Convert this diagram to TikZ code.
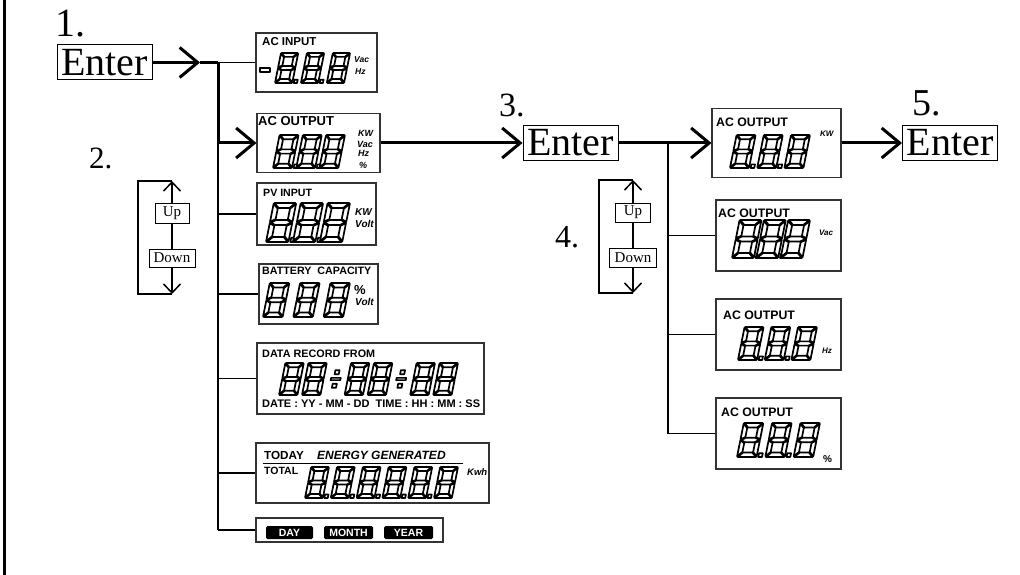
\documentclass[tikz,border=0pt]{standalone}
\usepackage{fontspec}
\setmainfont{Liberation Serif}
\newfontfamily\arialf{Liberation Sans}
\usetikzlibrary{arrows.meta,calc}
\newcommand\fs[1]{\fontsize{#1}{#1}\selectfont}
\newcommand\segdig[3]{%
  \begin{scope}[shift={({#1},{#2})},x=1pt,y=1pt,scale=#3/2,xslant=0.2]
    \filldraw[seg] (0.04,2)--(1.11,2)--(0.85,1.74)--(0.30,1.74)--cycle
      (0.04,0)--(1.11,0)--(0.85,0.26)--(0.30,0.26)--cycle
      (0.04,1)--(0.30,1.13)--(0.85,1.13)--(1.11,1)--(0.85,0.87)--(0.30,0.87)--cycle
      (0,1.96)--(0.26,1.70)--(0.26,1.17)--(0,1.04)--cycle
      (1.15,1.96)--(0.89,1.70)--(0.89,1.17)--(1.15,1.04)--cycle
      (0,0.04)--(0.26,0.30)--(0.26,0.83)--(0,0.96)--cycle
      (1.15,0.04)--(0.89,0.30)--(0.89,0.83)--(1.15,0.96)--cycle;
  \end{scope}}
\newcommand\segdot[3]{%
  \begin{scope}[shift={({#1},{#2})},x=1pt,y=1pt,scale=#3/2,xslant=0.2]
    \filldraw[seg] (1.25,0) rectangle (1.47,0.22);
  \end{scope}}
\newcommand\segcolon[3]{%
  \begin{scope}[shift={({#1},{#2})},x=1pt,y=1pt,scale=#3/2,xslant=0.2]
    \filldraw[seg] (0.12,0.45) rectangle (0.38,0.7)
      (0.12,1.3) rectangle (0.38,1.55)
      (-0.05,0.93) rectangle (0.55,1.07);
  \end{scope}}
\newcommand\segrow[6]{%
  \foreach \i in {1,...,#5}{%
    \segdig{#1+(\i-1)*#4}{#2}{#3}%
    \ifnum\i>#6\relax\else\segdot{#1+(\i-1)*#4}{#2}{#3}\fi}}
\begin{document}
\begin{tikzpicture}[x=1pt,y=-1pt,
  seg/.style={draw=black,fill=white,line width=1.7pt,line join=round},
  thk/.style={line width=3pt},
  thn/.style={line width=1.2pt},
  bigarrow/.style={thk,-{Straight Barb[length=18pt,width=30pt]}},
  udarrow/.style={line width=1.5pt,-{Straight Barb[length=9pt,width=17pt]}},
  udline/.style={line width=1.5pt},
  bracket/.style={line width=2pt},
  enter/.style={draw,line width=1pt,inner sep=0,minimum width=95pt,minimum height=35pt,font=\fs{40}},
  ud/.style={draw,line width=0.9pt,inner sep=0,fill=white,font=\fs{15}},
  num/.style={inner sep=0,anchor=base west},
  disp/.style={draw=black!80,line width=1.1pt,inner sep=0},
  lab/.style={inner sep=0,anchor=base west,font=\arialf\bfseries\fs{11}},
  unit/.style={inner sep=0,anchor=base west,font=\arialf\bfseries\itshape\fs{8}},
  tag/.style={fill=black,text=white,rounded corners=1.5pt,minimum height=13pt,inner sep=0,font=\arialf\bfseries\fs{10.5}}]
\useasboundingbox (0,0) rectangle (1020,575);
\draw[line width=2.5pt] (4.5,0) -- (4.5,575);

% step numbers
\node[num,font=\fs{40}] (n1) at (55,37) {1.};
\node[num,font=\fs{31}] (n2) at (89,168) {2.};
\node[num,font=\fs{34}] (n3) at (499,117) {3.};
\node[num,font=\fs{32}] (n4) at (555,247) {4.};
\node[num,font=\fs{38}] (n5) at (912,116) {5.};

% Enter keys
\node[enter] (e1) at (104.5,62.5) {Enter};
\node[enter] (e3) at (570.5,143) {Enter};
\node[enter] (e5) at (950,143) {Enter};

% displays
\node[disp,minimum width=121pt,minimum height=59pt] (acin) at (316.5,62.5) {};
\node[disp,minimum width=123pt,minimum height=59pt] (acout) at (318.5,143) {};
\node[disp,minimum width=119pt,minimum height=62pt] (pv) at (316.5,214) {};
\node[disp,minimum width=119pt,minimum height=60pt] (batt) at (318.5,294) {};
\node[disp,minimum width=227pt,minimum height=71pt] (data) at (370.5,378.5) {};
\node[disp,minimum width=233pt,minimum height=60pt] (energy) at (372.5,473) {};
\node[disp,minimum width=187pt,minimum height=24pt] (dmy) at (349.5,530) {};
\node[disp,minimum width=129pt,minimum height=69pt] (r1) at (776.5,143) {};
\node[disp,minimum width=125pt,minimum height=71pt] (r2) at (778.5,235.5) {};
\node[disp,minimum width=125pt,minimum height=71pt] (r3) at (778.5,334.5) {};
\node[disp,minimum width=125pt,minimum height=71pt] (r4) at (778.5,433.5) {};

% AC INPUT
\node[lab,font=\arialf\bfseries\fs{11.5}] (acinL) at (262,46) {AC INPUT};
\filldraw[seg] (260,68) rectangle (270,72);
\segrow{275}{83}{30}{25.9}{3}{2}
\node[unit,font=\arialf\bfseries\itshape\fs{8.5}] (acinU1) at (354,63) {Vac};
\node[unit,font=\arialf\bfseries\itshape\fs{8.5}] (acinU2) at (355,75) {Hz};

% AC OUTPUT (left)
\node[lab,font=\arialf\bfseries\fs{13}] (acoutL) at (258,126) {AC OUTPUT};
\segrow{273}{168}{33}{23.2}{3}{2}
\node[unit,font=\arialf\bfseries\itshape\fs{9}] (acoutU1) at (358,137) {KW};
\node[unit,font=\arialf\bfseries\itshape\fs{9}] (acoutU2) at (357,147) {Vac};
\node[unit,font=\arialf\bfseries\itshape\fs{9}] (acoutU3) at (358,157) {Hz};
\node[unit,font=\arialf\bfseries\itshape\fs{9}] (acoutU4) at (359,168) {\%};

% PV INPUT
\node[lab,font=\arialf\bfseries\fs{10.6}] (pvL) at (263,196) {PV INPUT};
\segrow{266}{242}{39}{26.9}{3}{2}
\node[unit,font=\arialf\bfseries\itshape\fs{10}] (pvU1) at (355,215) {KW};
\node[unit,font=\arialf\bfseries\itshape\fs{10}] (pvU2) at (355,227) {Volt};

% BATTERY
\node[lab,font=\arialf\bfseries\fs{10.7}] (battL) at (262,274) {BATTERY\ \ CAPACITY};
\segrow{263}{317}{34}{30.3}{3}{0}
\node[unit,font=\arialf\bfseries\fs{13}] (battU1) at (354,294) {\%};
\node[unit,font=\arialf\bfseries\itshape\fs{10}] (battU2) at (355,305) {Volt};

% DATA RECORD
\node[lab,font=\arialf\bfseries\fs{10.8}] (dataL) at (262,357) {DATA RECORD FROM};
\segdig{279}{395}{32}
\segdig{302}{395}{32}
\segcolon{328.5}{395}{32}
\segdig{344.6}{395}{32}
\segdig{367.6}{395}{32}
\segcolon{394}{395}{32}
\segdig{410.2}{395}{32}
\segdig{433.2}{395}{32}
\node[lab,font=\arialf\bfseries\fs{11}] (dataB) at (262,407) {DATE : YY - MM - DD\ \ TIME : HH : MM : SS};

% ENERGY
\node[lab,font=\arialf\bfseries\fs{11.7}] (enT) at (264,459.5) {TODAY};
\node[lab,font=\arialf\bfseries\itshape\fs{12}] (enE) at (317,459.5) {ENERGY GENERATED};
\draw[line width=1pt] (263,463) -- (463,463);
\node[lab,font=\arialf\bfseries\fs{10.5}] (enTot) at (264,474.5) {TOTAL};
\segrow{305}{498}{31}{25.8}{6}{5}
\node[unit,font=\arialf\bfseries\itshape\fs{9.5}] (enU) at (467,475) {Kwh};

% DAY MONTH YEAR
\node[tag,minimum width=47pt] (day) at (289.5,532.5) {DAY};
\node[tag,minimum width=49pt] (month) at (348.5,532.5) {MONTH};
\node[tag,minimum width=49pt] (year) at (408.5,532.5) {YEAR};

% right displays
\node[lab,font=\arialf\bfseries\fs{12.3}] (r1L) at (716,127) {AC OUTPUT};
\segrow{730}{168}{33}{27.2}{3}{2}
\node[unit,font=\arialf\bfseries\itshape\fs{8}] (r1U) at (820,137) {KW};
\node[lab,font=\arialf\bfseries\fs{12.3}] (r2L) at (718,217) {AC OUTPUT};
\segrow{732}{258}{38}{24.3}{3}{2}
\node[unit,font=\arialf\bfseries\itshape\fs{8}] (r2U) at (819,235) {Vac};
\node[lab,font=\arialf\bfseries\fs{12.3}] (r3L) at (723,319) {AC OUTPUT};
\segrow{738}{360}{33}{26.7}{3}{2}
\node[unit,font=\arialf\bfseries\itshape\fs{8}] (r3U) at (822,353) {Hz};
\node[lab,font=\arialf\bfseries\fs{12.3}] (r4L) at (721,416) {AC OUTPUT};
\segrow{737}{457}{34}{28.3}{3}{2}
\node[unit,font=\arialf\bfseries\fs{10}] (r4U) at (823,462) {\%};

% connectors
\coordinate (A1) at (200,62.5);
\coordinate (J1) at (218,62.5);
\draw[bigarrow] (e1.east) -- (A1);
\draw[thk] (A1) -- (J1);
\draw[thn] (J1) -- (acin.west);
\draw[thn] (J1) -- (J1 |- dmy.west);
\draw[bigarrow] (J1) |- (acout.west);
\foreach \d in {pv,batt,data,energy,dmy} \draw[thn] (J1 |- \d.west) -- (\d.west);
\draw[bigarrow] (acout.east) -- (e3.west);
\coordinate (J3) at (668,143);
\draw[bigarrow] (e3.east) -- (r1.west);
\draw[thn] (J3) -- (J3 |- r4.west);
\foreach \d in {r2,r3,r4} \draw[thn] (J3 |- \d.west) -- (\d.west);
\draw[bigarrow] (r1.east) -- (e5.west);

% Up / Down group 1
\node[ud,minimum width=34pt,minimum height=20pt] (up1) at (172,213) {Up};
\node[ud,minimum width=46pt,minimum height=18pt] (dn1) at (172,258) {Down};
\coordinate (T1) at (172,181);
\coordinate (B1) at (172,294);
\draw[udarrow] (up1) -- (T1);
\draw[udline] (up1) -- (dn1);
\draw[udarrow] (dn1) -- (B1);
\draw[bracket] (T1) -- ++(-34,0) |- (B1);

% Up / Down group 2
\node[ud,minimum width=35pt,minimum height=19pt] (up2) at (633,212.5) {Up};
\node[ud,minimum width=47pt,minimum height=19pt] (dn2) at (633,257.5) {Down};
\coordinate (T2) at (633,180);
\coordinate (B2) at (633,293);
\draw[udarrow] (up2) -- (T2);
\draw[udline] (up2) -- (dn2);
\draw[udarrow] (dn2) -- (B2);
\draw[bracket] (T2) -- ++(-34,0) |- (B2);
\end{tikzpicture}
\end{document}
